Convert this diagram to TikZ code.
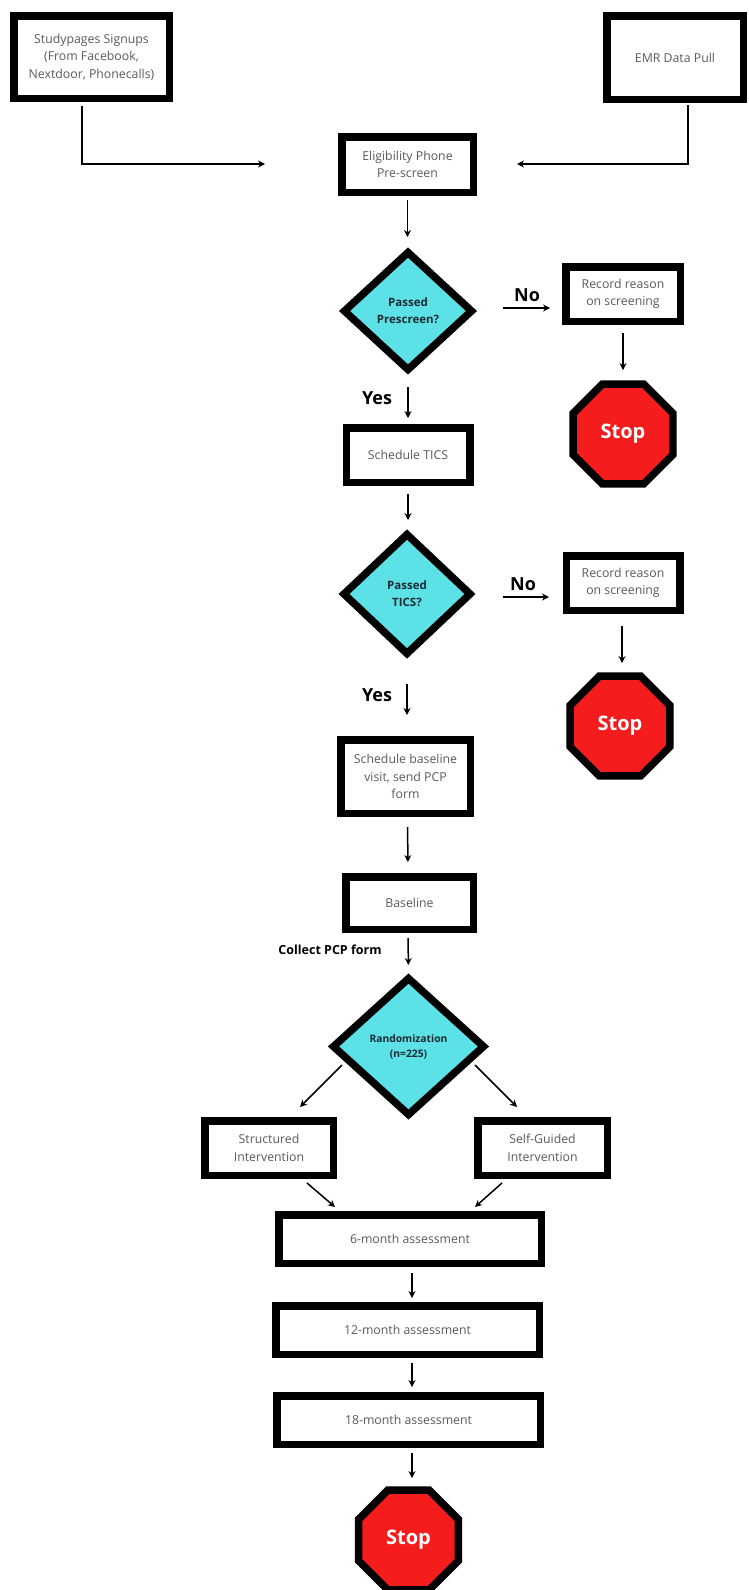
\documentclass[tikz,border=0pt]{standalone}
\usepackage{fontspec}
\setmainfont{Open Sans}
\usetikzlibrary{shapes.geometric,arrows.meta,calc}
\definecolor{cyanfill}{HTML}{5CE1E6}
\definecolor{stopred}{HTML}{F41C1C}
\definecolor{boxtext}{HTML}{5A5A5A}
\definecolor{dtext}{HTML}{1B2B34}
\begin{document}
\begin{tikzpicture}[x=1pt,y=-1pt,
 box/.style={draw=black, line width=7.5pt, fill=white, rectangle, inner sep=0pt, outer sep=0pt, align=center, text=boxtext, font=\fontsize{12.3}{17.5}\selectfont},
 dec/.style={draw=black, line width=7.5pt, fill=cyanfill, diamond, inner sep=0pt, outer sep=0pt, align=center, text=dtext, font=\bfseries\fontsize{11.5}{17}\selectfont, line join=miter},
 stopsign/.style={draw=black, line width=7.5pt, fill=stopred, regular polygon, regular polygon sides=8, inner sep=0pt, outer sep=0pt, text=white, font=\bfseries\fontsize{20}{24}\selectfont, minimum size=108pt},
 lbl/.style={font=\bfseries\fontsize{18}{20}\selectfont, text=black, inner sep=0pt},
 arr/.style={draw=black, line width=1.5pt, -{Stealth[length=7pt,width=7pt]}},
]
\useasboundingbox (0,0) rectangle (749,1590);
\fill[white] (0,0) rectangle (749,1590);

% nodes
\node[box, minimum width=155.5pt, minimum height=82.5pt] (sp) at (91.5,57) {Studypages Signups\\(From Facebook,\\Nextdoor, Phonecalls)};
\node[box, minimum width=136.5pt, minimum height=83.5pt] (emr) at (675,57.5) {EMR Data Pull};
\node[box, minimum width=131.5pt, minimum height=55.5pt] (elig) at (407.5,164.5) {Eligibility Phone\\Pre-screen};
\node[dec, minimum width=127pt, minimum height=117pt] (d1) at (408,311) {Passed\\Prescreen?};
\node[box, minimum width=114.5pt, minimum height=54.5pt] (rec1) at (623,294) {Record reason\\on screening};
\node[stopsign] (stop1) at (623,434) {Stop};
\node[box, minimum width=123.5pt, minimum height=54.5pt] (tics) at (408,455) {Schedule TICS};
\node[dec, minimum width=126pt, minimum height=119pt] (d2) at (407,594) {Passed\\TICS?};
\node[box, minimum width=113.5pt, minimum height=54.5pt] (rec2) at (623,583) {Record reason\\on screening};
\node[stopsign] (stop2) at (620,726) {Stop};
\node[box, minimum width=129.5pt, minimum height=73.5pt] (sbl) at (405.5,776.5) {Schedule baseline\\visit, send PCP\\form};
\node[box, minimum width=127.5pt, minimum height=52.5pt] (base) at (409.5,903) {Baseline};
\node[dec, minimum width=150pt, minimum height=136pt, font=\bfseries\fontsize{10.3}{15}\selectfont] (d3) at (408.5,1046.5) {Randomization\\(n=225)};
\node[box, minimum width=128.5pt, minimum height=54.5pt] (struct) at (269,1148) {Structured\\Intervention};
\node[box, minimum width=129.5pt, minimum height=54.5pt] (self) at (542.5,1148) {Self-Guided\\Intervention};
\node[box, minimum width=262.5pt, minimum height=48.5pt] (m6) at (410,1239) {6-month assessment};
\node[box, minimum width=263.5pt, minimum height=48.5pt] (m12) at (407.5,1330) {12-month assessment};
\node[box, minimum width=263.5pt, minimum height=48.5pt] (m18) at (408.5,1420) {18-month assessment};
\node[stopsign] (stop3) at (408.5,1540) {Stop};

% labels
\node[lbl] (no1) at (527,295) {No};
\node[lbl] (yes1) at (377,398) {Yes};
\node[lbl] (no2) at (523,584) {No};
\node[lbl] (yes2) at (377,695) {Yes};
\node[font=\bfseries\fontsize{12.5}{15}\selectfont, inner sep=0pt] (pcp) at (330,950) {Collect PCP form};

% connectors
\coordinate (spend) at (265,164);
\coordinate (emrend) at (517,164);
\draw[arr] ($(sp.south)+(-9.5,7.75)$) |- (spend);
\draw[arr] ($(emr.south)+(13,5.75)$) |- (emrend);
\draw[arr, shorten <=8pt, shorten >=15.5pt] (elig.south) -- (elig.south |- d1.north);
\draw[arr] ($(d1.east)+(31.5,-3)$) -- ($(rec1.west |- d1.east)+(-15.75,-3)$);
\draw[arr, shorten <=11.75pt, shorten >=14pt] (rec1.south) -- (rec1.south |- stop1.north);
\draw[arr, shorten <=17.5pt, shorten >=9.75pt] (d1.south) -- (d1.south |- tics.north);
\draw[arr, shorten <=11.75pt, shorten >=14.5pt] (tics.south) -- (tics.south |- d2.north);
\draw[arr] ($(d2.east)+(33,3)$) -- ($(rec2.west |- d2.east)+(-17.25,3)$);
\draw[arr, shorten <=15.75pt, shorten >=13pt] ($(rec2.south)+(-1,0)$) -- ($(rec2.south |- stop2.north)+(-1,0)$);
\draw[arr, shorten <=30.5pt, shorten >=24.75pt] (d2.south) -- (d2.south |- sbl.north);
\draw[arr, shorten <=13.75pt, shorten >=14.75pt] ($(sbl.south)+(2,0)$) -- ($(base.north)+(-1.5,0)$);
\draw[arr, shorten <=8.75pt, shorten >=13.5pt] ($(base.south)+(-1.5,0)$) -- (d3.north);
\draw[arr] ($(d3.west)+(8.5,18.5)$) -- ($(struct.north)+(31,-13.75)$);
\draw[arr] ($(d3.east)+(-8.5,18.5)$) -- ($(self.north)+(-25.5,-13.75)$);
\draw[arr] ($(struct.south)+(38,7.75)$) -- ($(m6.north)+(-75,-7.75)$);
\draw[arr] ($(self.south)+(-40.5,7.75)$) -- ($(m6.north)+(65,-7.75)$);
\draw[arr, shorten <=9.75pt, shorten >=7.75pt] ($(m6.south)+(2,0)$) -- ($(m6.south |- m12.north)+(2,0)$);
\draw[arr, shorten <=8.75pt, shorten >=8.75pt] ($(m12.south)+(4.5,0)$) -- ($(m12.south |- m18.north)+(4.5,0)$);
\draw[arr, shorten <=8.75pt, shorten >=12pt] ($(m18.south)+(3.5,0)$) -- ($(m18.south |- stop3.north)+(3.5,0)$);
\end{tikzpicture}
\end{document}
